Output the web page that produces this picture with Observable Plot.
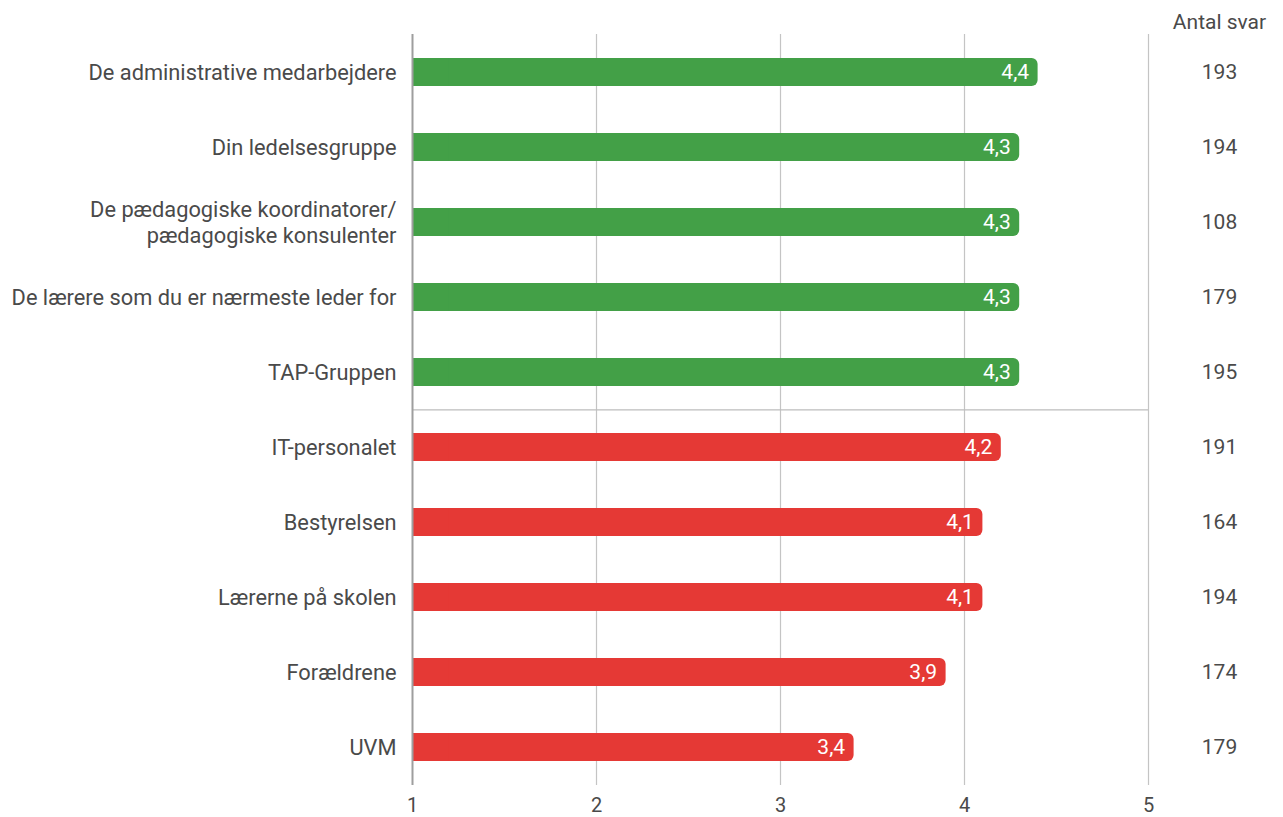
<!DOCTYPE html>
<html><head><meta charset="utf-8">
<script src="https://cdn.jsdelivr.net/npm/d3@7"></script>
<script src="https://cdn.jsdelivr.net/npm/@observablehq/plot@0.6"></script>
<style>body{margin:0;background:#fff;font-family:Roboto,sans-serif}</style>
</head><body><div id="chart"></div>
<script>
const categories = ["De administrative medarbejdere","Din ledelsesgruppe","De pædagogiske koordinatorer/\npædagogiske konsulenter","De lærere som du er nærmeste leder for","TAP-Gruppen","IT-personalet","Bestyrelsen","Lærerne på skolen","Forældrene","UVM"];
const values = [4.4,4.3,4.3,4.3,4.3,4.2,4.1,4.1,3.9,3.4];
const counts = [193,194,108,179,195,191,164,194,174,179];
const groups = ["top","top","top","top","top","bottom","bottom","bottom","bottom","bottom"];
const xTicks = [1,2,3,4,5];
const separatorBefore = "IT-personalet";

const data = categories.map((c,i)=>({cat:c,value:values[i],n:counts[i],group:groups[i]}));
const fmt = v => v.toFixed(1).replace(".", ",");
const H = 817, mt = 34, mb = 32;
const step = (H - mt - mb) / categories.length;
const pin = 0.627;

const chart = Plot.plot({
  width: 1283, height: H,
  marginLeft: 412, marginRight: 135, marginTop: mt, marginBottom: mb,
  style: {fontFamily: "Roboto, sans-serif", fontSize: "21px", color: "#4a4a4a", background: "#fff"},
  x: {domain: [1,5], ticks: xTicks, label: null},
  y: {domain: categories, paddingInner: pin, paddingOuter: pin/2, label: null},
  color: {domain: ["top","bottom"], range: ["#43a047","#e53935"]},
  marks: [
    Plot.ruleX(xTicks.slice(1), {stroke: "#c4c4c4", strokeWidth: 1.2}),
    Plot.ruleY([separatorBefore], {y: d => d, stroke: "#bdbdbd", strokeWidth: 1.2, dy: -step/2}),
    Plot.barX(data, {y: "cat", x1: 1, x2: "value", fill: "group", rx: 6}),
    Plot.barX(data, {y: "cat", x1: 1, x2: d => Math.min(d.value, 1.2), fill: "group"}),
    Plot.ruleX([1], {stroke: "#9e9e9e", strokeWidth: 2}),
    Plot.axisX({ticks: xTicks, tickSize: 0, tickPadding: 12, tickFormat: d => String(d), fill: "#4a4a4a", fontSize: 20, label: null}),
    Plot.axisY({tickSize: 0, tickPadding: 16, lineHeight: 1.2, dy: -1, fill: "#4a4a4a", fontSize: 21.8, label: null}),
    Plot.text(data, {y: "cat", x: "value", text: d => fmt(d.value), textAnchor: "end", dx: -9, fill: "white", fontSize: 21}),
    Plot.text(data, {y: "cat", text: d => String(d.n), frameAnchor: "right", dx: 71, textAnchor: "middle", fill: "#4a4a4a", fontSize: 21}),
    Plot.text(["Antal svar"], {frameAnchor: "top-right", dx: 71, dy: -20, textAnchor: "middle", fill: "#4a4a4a", fontSize: 21})
  ]
});
document.getElementById("chart").appendChild(chart);
</script></body></html>
